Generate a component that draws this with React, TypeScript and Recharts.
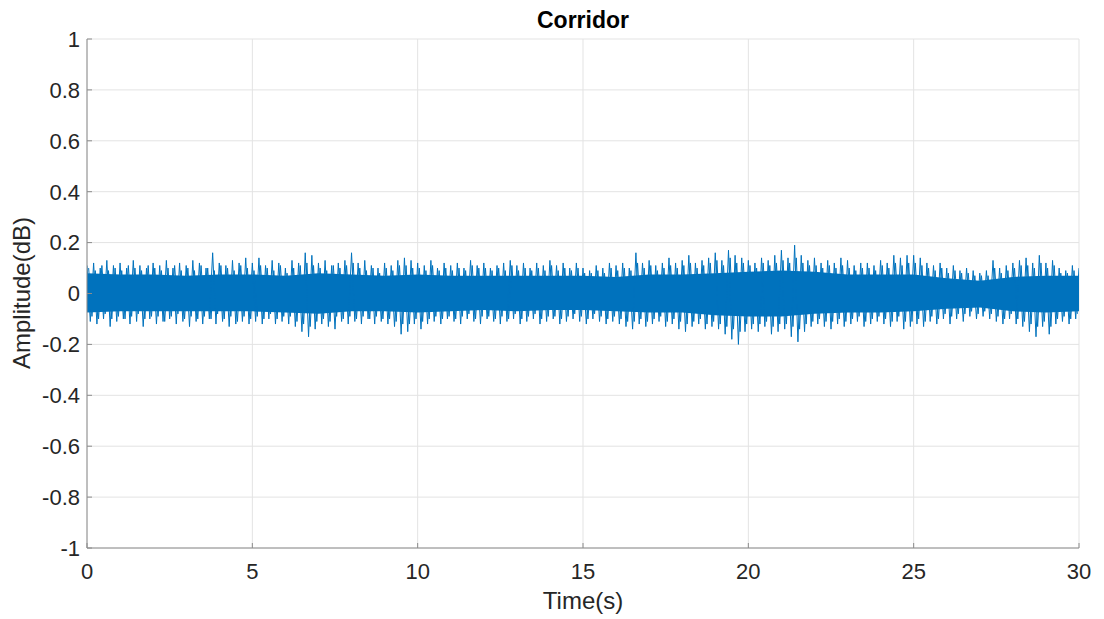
import React from 'react';
import { ComposedChart, Line, Area, XAxis, YAxis, CartesianGrid } from 'recharts';

// Upper peaks every 0.2 s (t = 0 .. 30)
const upperPeaks = [
  0.11, 0.12, 0.10, 0.13, 0.11,
  0.12, 0.10, 0.13, 0.11, 0.10,
  0.12, 0.11, 0.13, 0.10, 0.12,
  0.11, 0.13, 0.12, 0.10, 0.16,
  0.12, 0.11, 0.13, 0.12, 0.14,
  0.12, 0.14, 0.11, 0.13, 0.12,
  0.10, 0.13, 0.12, 0.16, 0.15,
  0.12, 0.13, 0.11, 0.12, 0.13,
  0.16, 0.12, 0.13, 0.11, 0.10,
  0.12, 0.11, 0.13, 0.14, 0.13,
  0.12, 0.11, 0.13, 0.10, 0.12,
  0.11, 0.12, 0.10, 0.13, 0.11,
  0.12, 0.10, 0.11, 0.12, 0.13,
  0.11, 0.12, 0.10, 0.12, 0.11,
  0.13, 0.11, 0.12, 0.10, 0.12,
  0.10, 0.09, 0.11, 0.10, 0.12,
  0.11, 0.12, 0.10, 0.16, 0.12,
  0.13, 0.11, 0.12, 0.14, 0.12,
  0.13, 0.15, 0.12, 0.13, 0.14,
  0.16, 0.13, 0.17, 0.15, 0.14,
  0.13, 0.12, 0.14, 0.13, 0.15,
  0.17, 0.14, 0.19, 0.15, 0.13,
  0.14, 0.12, 0.13, 0.12, 0.14,
  0.13, 0.11, 0.12, 0.12, 0.11,
  0.13, 0.12, 0.15, 0.14, 0.15,
  0.15, 0.14, 0.12, 0.11, 0.12,
  0.10, 0.11, 0.09, 0.10, 0.09,
  0.08, 0.09, 0.13, 0.10, 0.11,
  0.12, 0.13, 0.14, 0.12, 0.15,
  0.12, 0.13, 0.10, 0.09, 0.11,
  0.10,
];

// Lower troughs every 0.2 s, offset by 0.1 s (t = 0.1 .. 29.9)
const lowerPeaks = [
  -0.11, -0.12, -0.10, -0.13, -0.11,
  -0.10, -0.12, -0.11, -0.13, -0.10,
  -0.12, -0.11, -0.10, -0.12, -0.11,
  -0.13, -0.11, -0.12, -0.10, -0.12,
  -0.11, -0.13, -0.12, -0.11, -0.12,
  -0.11, -0.12, -0.10, -0.12, -0.11,
  -0.12, -0.13, -0.15, -0.17, -0.14,
  -0.12, -0.13, -0.14, -0.11, -0.12,
  -0.11, -0.12, -0.10, -0.12, -0.11,
  -0.12, -0.13, -0.16, -0.15, -0.12,
  -0.14, -0.12, -0.11, -0.12, -0.10,
  -0.11, -0.12, -0.10, -0.11, -0.12,
  -0.10, -0.11, -0.12, -0.11, -0.10,
  -0.12, -0.11, -0.10, -0.12, -0.11,
  -0.10, -0.12, -0.11, -0.10, -0.11,
  -0.12, -0.10, -0.11, -0.12, -0.11,
  -0.12, -0.13, -0.14, -0.12, -0.13,
  -0.12, -0.11, -0.13, -0.12, -0.14,
  -0.15, -0.13, -0.12, -0.14, -0.13,
  -0.14, -0.16, -0.18, -0.20, -0.15,
  -0.14, -0.15, -0.13, -0.16, -0.15,
  -0.14, -0.17, -0.19, -0.15, -0.13,
  -0.12, -0.13, -0.14, -0.12, -0.13,
  -0.12, -0.11, -0.13, -0.12, -0.11,
  -0.12, -0.13, -0.11, -0.14, -0.13,
  -0.12, -0.13, -0.11, -0.12, -0.10,
  -0.12, -0.10, -0.11, -0.09, -0.10,
  -0.09, -0.10, -0.11, -0.12, -0.10,
  -0.12, -0.13, -0.15, -0.17, -0.13,
  -0.16, -0.12, -0.11, -0.12, -0.10,
];

// Smaller fringe excursions every 0.1 s (t = 0.05 .. 29.95), alternating up / down
const fringe = [
  0.10, -0.09, 0.09, -0.10, 0.11, -0.08, 0.09, -0.10, 0.10, -0.09,
  0.09, -0.10, 0.11, -0.09, 0.10, -0.08, 0.09, -0.10, 0.11, -0.09,
  0.10, -0.09, 0.09, -0.11, 0.10, -0.09, 0.11, -0.08, 0.09, -0.10,
  0.10, -0.09, 0.09, -0.10, 0.11, -0.09, 0.10, -0.10, 0.09, -0.08,
  0.11, -0.10, 0.10, -0.09, 0.09, -0.11, 0.11, -0.09, 0.10, -0.10,
  0.09, -0.09, 0.11, -0.10, 0.10, -0.08, 0.09, -0.10, 0.11, -0.09,
  0.08, -0.09, 0.10, -0.11, 0.11, -0.12, 0.12, -0.13, 0.11, -0.11,
  0.10, -0.10, 0.09, -0.11, 0.11, -0.09, 0.10, -0.10, 0.11, -0.09,
  0.12, -0.10, 0.10, -0.09, 0.09, -0.10, 0.10, -0.09, 0.08, -0.10,
  0.10, -0.10, 0.09, -0.11, 0.11, -0.12, 0.11, -0.12, 0.10, -0.10,
  0.10, -0.11, 0.09, -0.10, 0.11, -0.09, 0.09, -0.10, 0.10, -0.09,
  0.09, -0.10, 0.10, -0.09, 0.09, -0.08, 0.11, -0.10, 0.10, -0.09,
  0.10, -0.09, 0.09, -0.10, 0.10, -0.09, 0.09, -0.10, 0.11, -0.08,
  0.09, -0.10, 0.10, -0.09, 0.09, -0.08, 0.10, -0.10, 0.09, -0.09,
  0.11, -0.09, 0.09, -0.10, 0.10, -0.09, 0.09, -0.08, 0.10, -0.09,
  0.08, -0.10, 0.08, -0.08, 0.09, -0.09, 0.08, -0.10, 0.10, -0.09,
  0.09, -0.10, 0.10, -0.11, 0.09, -0.11, 0.12, -0.10, 0.10, -0.11,
  0.11, -0.10, 0.09, -0.09, 0.10, -0.11, 0.11, -0.10, 0.10, -0.11,
  0.11, -0.12, 0.12, -0.11, 0.10, -0.10, 0.11, -0.12, 0.12, -0.11,
  0.13, -0.12, 0.11, -0.13, 0.14, -0.14, 0.12, -0.15, 0.12, -0.12,
  0.11, -0.12, 0.10, -0.12, 0.12, -0.11, 0.11, -0.13, 0.12, -0.12,
  0.13, -0.12, 0.12, -0.13, 0.14, -0.14, 0.12, -0.12, 0.11, -0.11,
  0.11, -0.10, 0.10, -0.11, 0.11, -0.11, 0.10, -0.10, 0.11, -0.11,
  0.10, -0.10, 0.09, -0.09, 0.10, -0.11, 0.10, -0.10, 0.09, -0.09,
  0.11, -0.10, 0.10, -0.11, 0.12, -0.09, 0.11, -0.11, 0.12, -0.11,
  0.12, -0.10, 0.11, -0.11, 0.10, -0.09, 0.09, -0.10, 0.10, -0.08,
  0.08, -0.09, 0.09, -0.08, 0.08, -0.08, 0.08, -0.07, 0.07, -0.08,
  0.07, -0.07, 0.07, -0.08, 0.10, -0.09, 0.08, -0.10, 0.09, -0.08,
  0.10, -0.10, 0.11, -0.11, 0.11, -0.12, 0.10, -0.13, 0.12, -0.11,
  0.10, -0.13, 0.11, -0.10, 0.08, -0.09, 0.08, -0.10, 0.09, -0.08,
];

// Dense core band, every 1 s
const coreTop = [
  0.08, 0.075, 0.075, 0.07, 0.075, 0.075, 0.07, 0.08, 0.075, 0.07,
  0.075, 0.07, 0.07, 0.07, 0.07, 0.07, 0.065, 0.075, 0.075, 0.08,
  0.085, 0.09, 0.085, 0.075, 0.075, 0.075, 0.06, 0.05, 0.065, 0.07, 0.07,
];
const coreBottom = [
  -0.075, -0.07, -0.07, -0.07, -0.07, -0.07, -0.075, -0.08, -0.07, -0.07,
  -0.075, -0.07, -0.065, -0.07, -0.065, -0.065, -0.07, -0.075, -0.075, -0.085,
  -0.09, -0.09, -0.08, -0.075, -0.075, -0.07, -0.06, -0.055, -0.07, -0.075, -0.07,
];

const xTicks = [0, 5, 10, 15, 20, 25, 30];
const yTicks = [-1, -0.8, -0.6, -0.4, -0.2, 0, 0.2, 0.4, 0.6, 0.8, 1];

const zigRows: { t: number; v: number }[] = [];
upperPeaks.forEach((u, i) => {
  zigRows.push({ t: i * 0.2, v: u });
  if (i < lowerPeaks.length) zigRows.push({ t: i * 0.2 + 0.1, v: lowerPeaks[i] });
});
const fringeRows = fringe.map((v, k) => ({ t: 0.05 + k * 0.1, v }));
const coreRows = coreTop.map((top, i) => ({ t: i, band: [coreBottom[i], top] }));

const FONT = '"Liberation Sans", Arial, Helvetica, sans-serif';
const BLUE = '#0072BD';
const AXIS = '#8c8c8c';
const TEXT = '#262626';
const empty = () => <g />;

export default function App() {
  return (
    <div style={{ position: 'relative', width: 1090, height: 611, fontFamily: FONT }}>
      <ComposedChart
        width={1090}
        height={611}
        margin={{ top: 31, right: 19, bottom: 41, left: 0 }}
      >
        <CartesianGrid stroke="#e3e3e3" strokeWidth={1} />
        <XAxis
          type="number"
          dataKey="t"
          domain={[0, 30]}
          ticks={xTicks}
          allowDataOverflow
          height={30}
          stroke={AXIS}
          tickSize={-5}
          tickMargin={20}
          tick={{ fill: TEXT, fontSize: 22, fontFamily: FONT }}
        />
        <YAxis
          type="number"
          domain={[-1, 1]}
          ticks={yTicks}
          allowDataOverflow
          width={79}
          stroke={AXIS}
          tickSize={-5}
          tickMargin={12}
          tick={{ fill: TEXT, fontSize: 22, fontFamily: FONT }}
          tickFormatter={(v: number) => String(v)}
        />
        <XAxis
          xAxisId="top"
          orientation="top"
          type="number"
          domain={[0, 30]}
          ticks={xTicks}
          allowDataOverflow
          height={0}
          stroke={AXIS}
          tickSize={-5}
          tick={empty}
        />
        <YAxis
          yAxisId="right"
          orientation="right"
          type="number"
          domain={[-1, 1]}
          ticks={yTicks}
          allowDataOverflow
          width={0}
          stroke={AXIS}
          tickSize={-5}
          tick={empty}
        />
        <Area
          data={coreRows}
          dataKey="band"
          type="linear"
          stroke="none"
          fill={BLUE}
          fillOpacity={1}
          isAnimationActive={false}
        />
        <Line
          data={fringeRows}
          dataKey="v"
          type="linear"
          stroke={BLUE}
          strokeWidth={1}
          dot={false}
          isAnimationActive={false}
        />
        <Line
          data={zigRows}
          dataKey="v"
          type="linear"
          stroke={BLUE}
          strokeWidth={1}
          dot={false}
          isAnimationActive={false}
        />
      </ComposedChart>
      <div
        style={{
          position: 'absolute', left: 575, top: 0, transform: 'translateX(-50%)',
          fontSize: 23, fontWeight: 'bold', lineHeight: '24px', color: '#000', whiteSpace: 'nowrap',
        }}
      >
        Corridor
      </div>
      <div
        style={{
          position: 'absolute', left: 575, top: 581, transform: 'translateX(-50%)',
          fontSize: 24, lineHeight: '24px', color: TEXT, whiteSpace: 'nowrap',
        }}
      >
        Time(s)
      </div>
      <div
        style={{
          position: 'absolute', left: 14, top: 285, transform: 'translate(-50%, -50%) rotate(-90deg)',
          fontSize: 24, lineHeight: '24px', color: TEXT, whiteSpace: 'nowrap',
        }}
      >
        Amplitude(dB)
      </div>
    </div>
  );
}
